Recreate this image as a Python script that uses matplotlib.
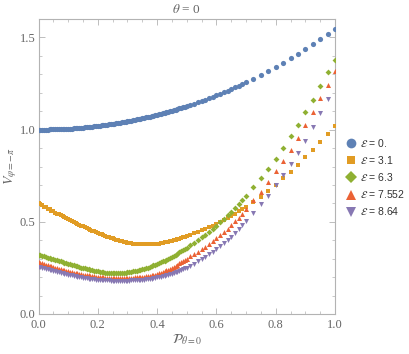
import matplotlib
matplotlib.use("Agg")
import matplotlib.pyplot as plt
from matplotlib.ticker import MultipleLocator
from matplotlib.lines import Line2D

# ---- data ----
x_vals = [0.0, 0.0125, 0.025, 0.0375, 0.05, 0.0625, 0.075, 0.0875, 0.1, 0.1125,
          0.125, 0.1375, 0.15, 0.1625, 0.175, 0.1875, 0.2, 0.2125, 0.225, 0.2375,
          0.25, 0.2625, 0.275, 0.2875, 0.3, 0.3125, 0.325, 0.3375, 0.35, 0.3625,
          0.375, 0.3875, 0.4, 0.4125, 0.425, 0.4375, 0.45, 0.4625, 0.475, 0.4875,
          0.5, 0.5125, 0.525, 0.5375, 0.55, 0.5625, 0.575, 0.5875, 0.6, 0.6125,
          0.625, 0.6375, 0.65, 0.6625, 0.675, 0.6875, 0.7, 0.725, 0.75, 0.775,
          0.8, 0.825, 0.85, 0.875, 0.9, 0.925, 0.95, 0.975, 1.0]

v_e0 = [1.000, 1.000, 1.000, 1.001, 1.001, 1.002, 1.003, 1.004, 1.005, 1.006,
        1.008, 1.009, 1.011, 1.013, 1.015, 1.018, 1.020, 1.023, 1.025, 1.028,
        1.031, 1.035, 1.038, 1.042, 1.045, 1.049, 1.053, 1.058, 1.062, 1.066,
        1.071, 1.076, 1.081, 1.086, 1.092, 1.097, 1.103, 1.109, 1.115, 1.122,
        1.128, 1.135, 1.141, 1.148, 1.156, 1.163, 1.170, 1.178, 1.186, 1.194,
        1.203, 1.211, 1.220, 1.229, 1.238, 1.247, 1.256, 1.276, 1.296, 1.317,
        1.339, 1.362, 1.386, 1.410, 1.436, 1.462, 1.490, 1.518, 1.547]

v_e31 = [0.600, 0.589, 0.578, 0.567, 0.556, 0.545, 0.535, 0.525, 0.515, 0.505,
         0.495, 0.485, 0.475, 0.466, 0.457, 0.448, 0.440, 0.432, 0.424, 0.417,
         0.410, 0.403, 0.397, 0.392, 0.387, 0.384, 0.381, 0.379, 0.378, 0.378,
         0.378, 0.379, 0.381, 0.384, 0.388, 0.392, 0.397, 0.403, 0.409, 0.416,
         0.423, 0.430, 0.437, 0.445, 0.453, 0.461, 0.470, 0.479, 0.489, 0.499,
         0.510, 0.521, 0.533, 0.545, 0.557, 0.569, 0.582, 0.608, 0.636, 0.667,
         0.701, 0.735, 0.771, 0.809, 0.849, 0.891, 0.935, 0.977, 1.018]

v_e63 = [0.321, 0.315, 0.309, 0.303, 0.297, 0.291, 0.285, 0.279, 0.273, 0.267,
         0.261, 0.255, 0.250, 0.245, 0.240, 0.235, 0.231, 0.228, 0.225, 0.223,
         0.222, 0.222, 0.222, 0.224, 0.226, 0.229, 0.233, 0.238, 0.243, 0.249,
         0.256, 0.264, 0.272, 0.281, 0.290, 0.300, 0.311, 0.322, 0.334, 0.346,
         0.359, 0.372, 0.385, 0.400, 0.415, 0.430, 0.446, 0.463, 0.480, 0.498,
         0.516, 0.535, 0.554, 0.574, 0.595, 0.616, 0.638, 0.687, 0.738, 0.789,
         0.843, 0.900, 0.963, 1.027, 1.093, 1.162, 1.234, 1.310, 1.380]

v_e7552 = [0.280, 0.274, 0.267, 0.261, 0.255, 0.249, 0.243, 0.238, 0.232, 0.227,
           0.222, 0.218, 0.214, 0.211, 0.207, 0.204, 0.201, 0.199, 0.197, 0.196,
           0.195, 0.194, 0.194, 0.194, 0.195, 0.196, 0.198, 0.200, 0.202, 0.205,
           0.208, 0.212, 0.217, 0.224, 0.232, 0.241, 0.251, 0.262, 0.274, 0.286,
           0.299, 0.312, 0.325, 0.337, 0.350, 0.364, 0.379, 0.394, 0.410, 0.427,
           0.444, 0.463, 0.482, 0.502, 0.522, 0.545, 0.568, 0.616, 0.664, 0.718,
           0.775, 0.830, 0.890, 0.955, 1.024, 1.097, 1.170, 1.243, 1.318]

v_e864 = [0.257, 0.252, 0.246, 0.240, 0.235, 0.229, 0.224, 0.219, 0.214, 0.209,
          0.205, 0.201, 0.197, 0.194, 0.191, 0.188, 0.186, 0.184, 0.183, 0.182,
          0.181, 0.180, 0.180, 0.180, 0.181, 0.182, 0.183, 0.184, 0.186, 0.188,
          0.191, 0.194, 0.198, 0.202, 0.207, 0.212, 0.218, 0.226, 0.233, 0.242,
          0.252, 0.262, 0.273, 0.285, 0.297, 0.310, 0.323, 0.338, 0.353, 0.369,
          0.386, 0.403, 0.420, 0.440, 0.460, 0.481, 0.502, 0.549, 0.595, 0.642,
          0.698, 0.756, 0.816, 0.874, 0.939, 1.014, 1.090, 1.166]

# extra (denser) samples in the left half, where the reference points overlap
x_dense = [0.00625, 0.01875, 0.03125, 0.04375, 0.05625, 0.06875, 0.08125, 0.09375,
           0.10625, 0.11875, 0.13125, 0.14375, 0.15625, 0.16875, 0.18125, 0.19375,
           0.20625, 0.21875, 0.23125, 0.24375, 0.25625, 0.26875, 0.28125, 0.29375,
           0.30625, 0.31875, 0.33125, 0.34375, 0.35625, 0.36875, 0.38125, 0.39375,
           0.40625, 0.41875, 0.43125, 0.44375, 0.45625, 0.46875, 0.48125, 0.49375]

d_e0 = [1.000, 1.000, 1.000, 1.001, 1.001, 1.002, 1.003, 1.004, 1.005, 1.007,
        1.008, 1.010, 1.012, 1.014, 1.016, 1.019, 1.021, 1.024, 1.026, 1.029,
        1.033, 1.036, 1.040, 1.043, 1.047, 1.051, 1.055, 1.060, 1.064, 1.068,
        1.073, 1.078, 1.083, 1.089, 1.094, 1.100, 1.106, 1.112, 1.118, 1.125]

d_e31 = [0.594, 0.583, 0.572, 0.561, 0.550, 0.540, 0.530, 0.520, 0.510, 0.500,
         0.490, 0.480, 0.470, 0.461, 0.452, 0.444, 0.436, 0.428, 0.420, 0.413,
         0.406, 0.400, 0.394, 0.389, 0.385, 0.382, 0.380, 0.378, 0.378, 0.378,
         0.378, 0.380, 0.382, 0.386, 0.390, 0.394, 0.400, 0.406, 0.412, 0.419]

d_e63 = [0.318, 0.312, 0.306, 0.300, 0.294, 0.288, 0.282, 0.276, 0.270, 0.264,
         0.258, 0.252, 0.247, 0.242, 0.237, 0.233, 0.229, 0.226, 0.224, 0.222,
         0.222, 0.222, 0.223, 0.225, 0.227, 0.231, 0.235, 0.240, 0.246, 0.252,
         0.260, 0.268, 0.276, 0.285, 0.295, 0.305, 0.316, 0.328, 0.340, 0.352]

d_e7552 = [0.277, 0.270, 0.264, 0.258, 0.252, 0.246, 0.240, 0.235, 0.229, 0.224,
           0.220, 0.216, 0.212, 0.209, 0.205, 0.202, 0.200, 0.198, 0.196, 0.195,
           0.194, 0.194, 0.194, 0.194, 0.195, 0.197, 0.199, 0.201, 0.203, 0.206,
           0.210, 0.214, 0.220, 0.228, 0.236, 0.246, 0.256, 0.268, 0.280, 0.292]

d_e864 = [0.254, 0.249, 0.243, 0.237, 0.232, 0.226, 0.221, 0.216, 0.211, 0.207,
          0.203, 0.199, 0.195, 0.192, 0.189, 0.187, 0.185, 0.183, 0.182, 0.181,
          0.180, 0.180, 0.180, 0.180, 0.181, 0.182, 0.183, 0.185, 0.187, 0.190,
          0.192, 0.196, 0.200, 0.204, 0.210, 0.215, 0.222, 0.230, 0.238, 0.247]

series_labels = [r"$\mathcal{E}$ = 0.", r"$\mathcal{E}$ = 3.1", r"$\mathcal{E}$ = 6.3",
                 r"$\mathcal{E}$ = 7.552", r"$\mathcal{E}$ = 8.64"]
x_ticks = [0.0, 0.2, 0.4, 0.6, 0.8, 1.0]
x_tick_labels = ["0.0", "0.2", "0.4", "0.6", "0.8", "1.0"]
y_ticks = [0.0, 0.5, 1.0, 1.5]
y_tick_labels = ["0.0", "0.5", "1.0", "1.5"]

# ---- style ----
plt.rcParams['mathtext.fontset'] = 'stix'
colors = ["#5E81B5", "#E19C24", "#8FB032", "#EB6235", "#8778B3"]
markers = ["o", "s", "D", "^", "v"]
sizes = [14, 11, 9, 13, 13]
serif = "Liberation Serif"
gray_txt = "#666666"
frame_col = "#b3b3b3"

fig = plt.figure(figsize=(4.09, 3.54), dpi=100)
ax = fig.add_axes([38.5 / 409, 40 / 354, (335 - 38.5) / 409, (314 - 19) / 354])

main_series = [v_e0, v_e31, v_e63, v_e7552, v_e864]
dense_series = [d_e0, d_e31, d_e63, d_e7552, d_e864]
for vals, dvals, c, m, s in zip(main_series, dense_series, colors, markers, sizes):
    xs = x_vals[:len(vals)] + x_dense
    ys = vals + dvals
    ax.scatter(xs, ys, s=s, c=c, marker=m, linewidths=0, zorder=3)

ax.set_xlim(0, 1.0)
ax.set_ylim(0, 1.6)
ax.set_xticks(x_ticks)
ax.set_xticklabels(x_tick_labels)
ax.set_yticks(y_ticks)
ax.set_yticklabels(y_tick_labels)
ax.xaxis.set_minor_locator(MultipleLocator(0.05))
ax.yaxis.set_minor_locator(MultipleLocator(0.1))
ax.tick_params(which='both', direction='in', top=True, right=True, color=frame_col)
ax.tick_params(which='major', length=4, width=0.6, labelsize=9, labelcolor=gray_txt)
ax.tick_params(axis='x', which='major', pad=3.5)
ax.tick_params(axis='y', which='major', pad=2)
ax.tick_params(which='minor', length=2.2, width=0.5)
for lab in ax.get_xticklabels() + ax.get_yticklabels():
    lab.set_family(serif)
for sp in ax.spines.values():
    sp.set_color(frame_col)
    sp.set_linewidth(0.8)

ax.set_title(r"$\theta$ = 0", fontsize=9.5, color=gray_txt, family=serif, pad=4)
ax.set_xlabel(r"$\mathcal{P}_{\theta=0}$", fontsize=10, color=gray_txt, labelpad=1)
ax.set_ylabel(r"$V_{\varphi=-\pi}$", fontsize=10, color=gray_txt, labelpad=1)

handles = [Line2D([], [], linestyle='none', marker=m, color=c, markersize=ms, markeredgewidth=0)
           for c, m, ms in zip(colors, markers, [7, 6, 6, 7, 7])]
fig.legend(handles, series_labels, loc='center left', bbox_to_anchor=(341 / 409, 1 - 177 / 354),
           frameon=False, handlelength=1.0, handletextpad=0.35, labelspacing=0.5,
           borderpad=0, prop={'family': 'Liberation Sans', 'size': 7.5}, labelcolor="#333333")

fig.savefig("out.png", dpi=100)
